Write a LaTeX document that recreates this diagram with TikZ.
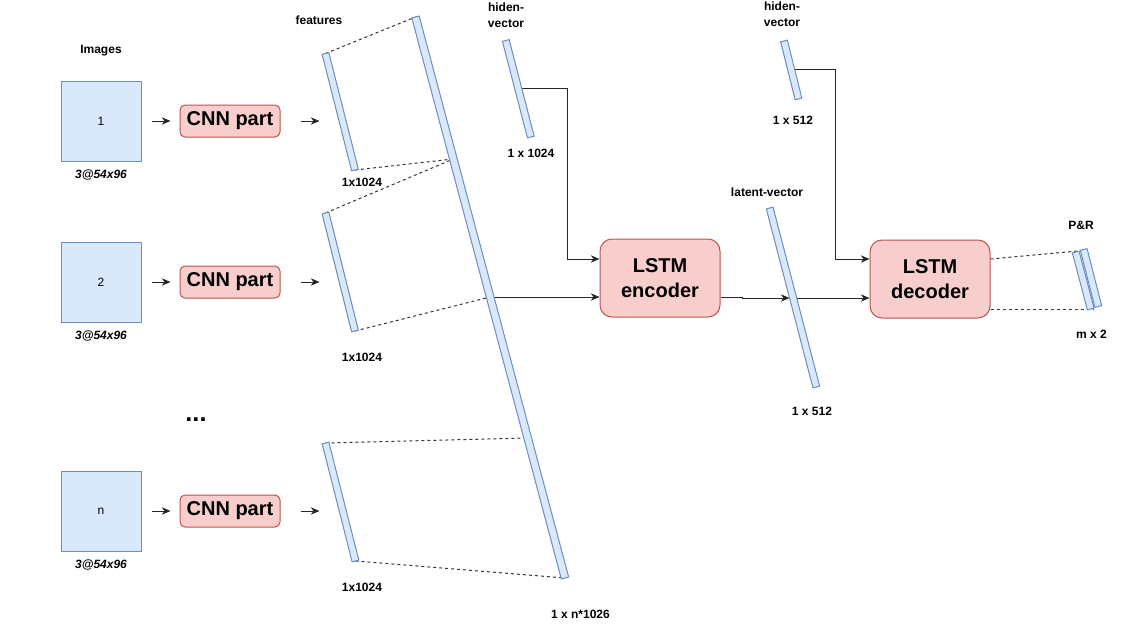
\documentclass[tikz,border=0pt]{standalone}
\usepackage{fontspec}
\setmainfont{Liberation Sans}
\usetikzlibrary{arrows.meta,calc}
\definecolor{bfill}{HTML}{DAE8FC}
\definecolor{bdraw}{HTML}{6C8EBF}
\definecolor{rfill}{HTML}{F8CECC}
\definecolor{rdraw}{HTML}{B85450}
\newcommand{\vecbar}[3]{%
  \draw[barst] ($(#1)!#3!90:(#2)$) -- ($(#1)!#3!-90:(#2)$) -- ($(#2)!#3!90:(#1)$) -- ($(#2)!#3!-90:(#1)$) -- cycle;}
\begin{document}
\begin{tikzpicture}[x=0.75pt,y=-0.75pt,
  imgbox/.style={draw=bdraw,fill=bfill,line width=0.75pt,minimum width=60pt,minimum height=60pt,inner sep=0pt,font=\fontsize{9}{11}\selectfont},
  cnnbox/.style={draw=rdraw,fill=rfill,line width=0.75pt,rounded corners=3.75pt,minimum width=75pt,minimum height=24pt,inner sep=0pt,font=\fontsize{15}{18}\selectfont\bfseries},
  lstmbox/.style={draw=rdraw,fill=rfill,line width=0.75pt,rounded corners=9pt,minimum width=90pt,minimum height=58.5pt,inner sep=0pt,align=center,font=\fontsize{15}{18.75}\selectfont\bfseries},
  lbl/.style={font=\fontsize{9}{12}\selectfont\bfseries,inner sep=0pt,align=center},
  ilbl/.style={font=\fontsize{9}{11}\selectfont\bfseries\itshape,inner sep=0pt},
  arr/.style={-{Stealth[length=6.5pt,width=5.5pt,inset=2pt]},line width=0.75pt,draw=black!85},
  dsh/.style={dash pattern=on 2.25pt off 2.25pt,line width=0.75pt,draw=black!80},
  barst/.style={draw=bdraw,fill=bfill,line width=0.75pt},
]
\useasboundingbox (0,0) rectangle (1122,633);

% coordinates of vector bars
\coordinate (f1t) at (325.5,53.5);  \coordinate (f1b) at (355,170);
\coordinate (f2t) at (325.5,213);   \coordinate (f2b) at (355,331);
\coordinate (f3t) at (325.5,443);   \coordinate (f3b) at (355.5,561);
\coordinate (gt) at (415.5,17);     \coordinate (gb) at (565,578);
\coordinate (g159) at (453.3,159);  \coordinate (g297) at (490.1,297);
\coordinate (g438) at (527.7,438);
\coordinate (ht1) at (505.8,40.5);  \coordinate (hb1) at (530.8,137);
\coordinate (hc1) at (518,88);
\coordinate (lt) at (769.7,208);    \coordinate (lb) at (816.3,387);
\coordinate (lc) at (793.1,298);    \coordinate (ll) at (789.5,298);
\coordinate (ht2) at (784,41);      \coordinate (hb2) at (798.5,99);
\coordinate (hc2) at (791,69);
\coordinate (pat) at (1075.7,252);  \coordinate (pab) at (1090.7,309);
\coordinate (pbt) at (1083.7,249.5);\coordinate (pbb) at (1098.3,306.5);
\coordinate (p1) at (1078,251);     \coordinate (p2) at (1093,309);

% boxes
\node[imgbox] (img1) at (101,121) {1};
\node[imgbox] (img2) at (101,282) {2};
\node[imgbox] (img3) at (101,511) {n};
\node[cnnbox] (cnn1) at (230,121) {CNN part};
\node[cnnbox] (cnn2) at (230,282) {CNN part};
\node[cnnbox] (cnn3) at (230,511) {CNN part};
\node[lstmbox] (enc) at (660,278) {LSTM\\encoder};
\node[lstmbox] (dec) at (930,279) {LSTM\\decoder};

% dashed projections
\draw[dsh] (f1t) -- (gt);
\draw[dsh] (f1b) -- (g159);
\draw[dsh] (f2t) -- (g159);
\draw[dsh] (f2b) -- (g297);
\draw[dsh] (f3t) -- (g438);
\draw[dsh] (f3b) -- (gb);
\draw[dsh] ($(dec.east)+(0,-20)$) -- (p1);
\draw[dsh] ($(dec.east)+(0,30)$) -- (p2);

% arrows
\foreach \i in {1,2,3}{
  \draw[arr] ($(img\i.east)+(10,0)$) -- ($(cnn\i.west)+(-9,0)$);
  \draw[arr] ($(cnn\i.east)+(20,0)$) -- ($(cnn\i.east)+(39,0)$);
}
\coordinate (ein1) at ($(enc.west)+(0,-19)$);
\coordinate (ein2) at ($(enc.west)+(0,19)$);
\coordinate (eout) at ($(enc.east)+(0,19)$);
\coordinate (din1) at ($(dec.west)+(0,-20)$);
\coordinate (din2) at ($(dec.west)+(0,19)$);
\draw[arr] (hc1) -| ($(ein1)+(-32,0)$) -- (ein1);
\draw[arr] (g297) -- (ein2);
\draw[arr] (eout) -- ++(22,0) -- ++(0,1) -- (ll);
\draw[arr] (lc) -- (din2);
\draw[arr] (hc2) -| ($(din1)+(-34,0)$) -- (din1);

% vector bars
\vecbar{f1t}{f1b}{2.6pt}
\vecbar{f2t}{f2b}{2.6pt}
\vecbar{f3t}{f3b}{2.6pt}
\vecbar{gt}{gb}{2.85pt}
\vecbar{ht1}{hb1}{2.6pt}
\vecbar{lt}{lb}{2.6pt}
\vecbar{ht2}{hb2}{2.6pt}
\vecbar{pat}{pab}{2.6pt}
\vecbar{pbt}{pbb}{2.6pt}

% labels
\node[lbl] (limages) at (101,51) {Images};
\node[ilbl] (s1) at (101,175) {3@54x96};
\node[ilbl] (s2) at (101,336) {3@54x96};
\node[ilbl] (s3) at (101,565) {3@54x96};
\node[font=\fontsize{19}{20}\selectfont\bfseries,anchor=base,inner sep=0pt] (dots) at (196,421.5) {...};
\node[lbl] (lfeat) at (319,20.5) {features};
\node[lbl] (lf1) at (362,182) {1x1024};
\node[lbl] (lf2) at (362,357) {1x1024};
\node[lbl] (lf3) at (362,587) {1x1024};
\node[lbl] (lbig) at (580.5,614) {1 x n*1026};
\node[lbl] (lh1) at (506,15) {hiden-\\vector};
\node[lbl] (lh1s) at (531,153.5) {1 x 1024};
\node[lbl] (llat) at (767,192) {latent-vector};
\node[lbl] (llats) at (812,411) {1 x 512};
\node[lbl] (lh2) at (782,14) {hiden-\\vector};
\node[lbl] (lh2s) at (793,120.5) {1 x 512};
\node[lbl] (lpr) at (1081,225) {P\&R};
\node[lbl] (lm) at (1091.5,334.5) {m x 2};
\end{tikzpicture}
\end{document}
